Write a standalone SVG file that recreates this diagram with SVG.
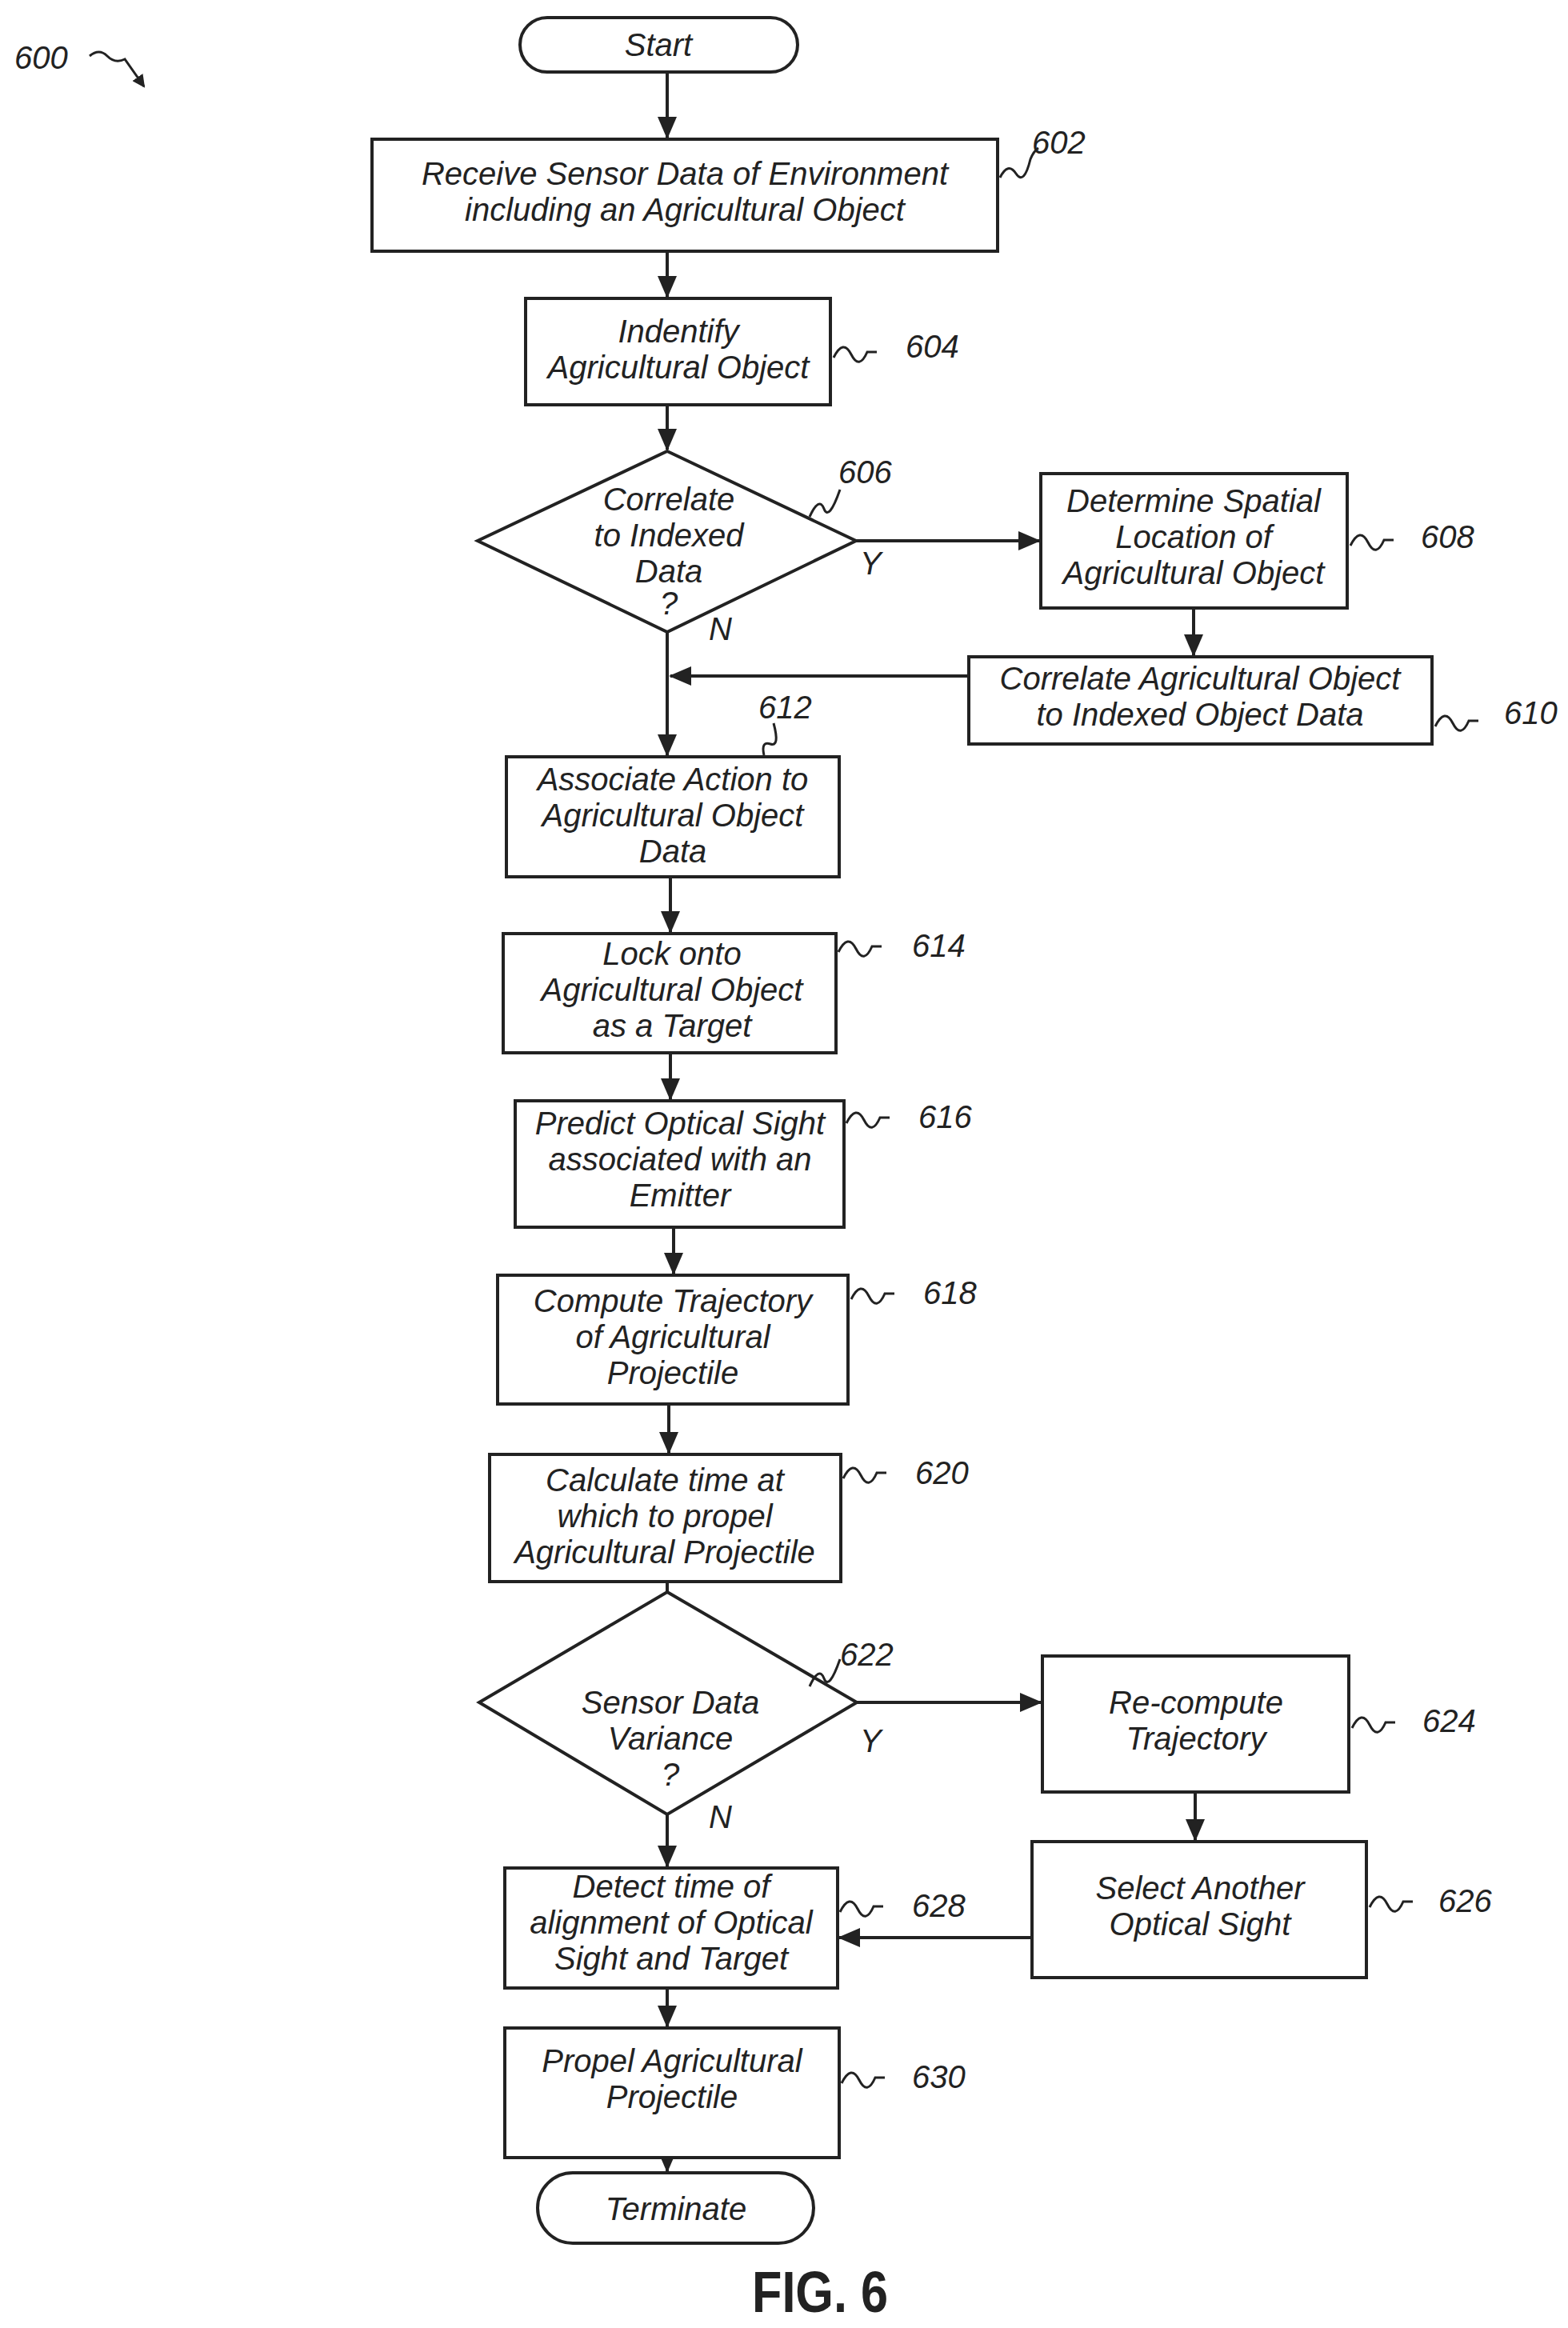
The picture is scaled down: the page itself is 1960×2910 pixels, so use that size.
<svg xmlns="http://www.w3.org/2000/svg" width="1960" height="2910" viewBox="0 0 1960 2910">
<style>
.b{fill:#fff;stroke:#222;stroke-width:4}
.t{font-family:"Liberation Sans",Arial,sans-serif;font-style:italic;font-size:40px;fill:#222;text-anchor:middle}
.n{font-family:"Liberation Sans",Arial,sans-serif;font-style:italic;font-size:40px;fill:#222}
.c{fill:none;stroke:#222;stroke-width:4}
.s{fill:none;stroke:#222;stroke-width:3}
</style>
<defs><marker id="a" markerWidth="16" markerHeight="16" refX="14" refY="8" orient="auto" markerUnits="userSpaceOnUse" viewBox="0 0 16 16"><path d="M0,0 L16,8 L0,16 z" fill="#222"/></marker>
<marker id="ah" markerWidth="28" markerHeight="28" refX="26" refY="14" orient="auto" markerUnits="userSpaceOnUse"><path d="M0,2 L28,14 L0,26 z" fill="#222"/></marker></defs>
<g id="connectors">
<path class="c" marker-end="url(#ah)" d="M834,90 V172"/>
<path class="c" marker-end="url(#ah)" d="M834,314 V371"/>
<path class="c" marker-end="url(#ah)" d="M834,506 V562"/>
<path class="c" marker-end="url(#ah)" d="M1070,676 H1299"/>
<path class="c" marker-end="url(#ah)" d="M1492,760 V819"/>
<path class="c" marker-end="url(#ah)" d="M1211,845 H838"/>
<path class="c" marker-end="url(#ah)" d="M834,790 V944"/>
<path class="c" marker-end="url(#ah)" d="M838,1096 V1165"/>
<path class="c" marker-end="url(#ah)" d="M838,1316 V1374"/>
<path class="c" marker-end="url(#ah)" d="M842,1534 V1592"/>
<path class="c" marker-end="url(#ah)" d="M836,1755 V1816"/>
<path class="c" marker-end="url(#ah)" d="M834,1977 V2040"/>
<path class="c" marker-end="url(#ah)" d="M1071,2128 H1301"/>
<path class="c" marker-end="url(#ah)" d="M1494,2240 V2300"/>
<path class="c" marker-end="url(#ah)" d="M1290,2422 H1049"/>
<path class="c" marker-end="url(#ah)" d="M834,2268 V2333"/>
<path class="c" marker-end="url(#ah)" d="M834,2485 V2533"/>
<path class="c" marker-end="url(#ah)" d="M834,2697 V2714"/>
<text class="n" x="1075" y="718">Y</text>
<text class="n" x="886" y="800">N</text>
<text class="n" x="1075" y="2190">Y</text>
<text class="n" x="886" y="2285">N</text>
</g>
<g id="label600"><text class="n" x="18" y="86">600</text><path class="s" marker-end="url(#a)" d="M112,70 q12,-10 22,0 t22,4 l24,34"/></g>
<g id="start"><rect class="b" x="650" y="22" width="347" height="68" rx="34"/><text class="t" x="823" y="70">Start</text></g>
<g id="n602"><rect class="b" x="465" y="174" width="782" height="140"/><text class="t" x="856" y="231">Receive Sensor Data of Environment</text><text class="t" x="856" y="276">including an Agricultural Object</text><path class="s" d="M1250,222 q10,-20 20,-5 t18,-18 q4,-10 10,-14"/><text class="n" x="1290" y="192">602</text></g>
<g id="n604"><rect class="b" x="657" y="373" width="381" height="133"/><text class="t" x="848" y="428">Indentify</text><text class="t" x="848" y="473">Agricultural Object</text><path class="s" d="M1042,447 q12,-24 22,-4 t20,-3 h12"/><text class="n" x="1132" y="447">604</text></g>
<g id="n606"><polygon class="b" points="834,564 1070,676 834,790 597,676"/><text class="t" x="836" y="638">Correlate</text><text class="t" x="836" y="683">to Indexed</text><text class="t" x="836" y="728">Data</text><text class="t" x="836" y="768">?</text><path class="s" d="M1012,646 q12,-26 18,-10 t20,-24"/><text class="n" x="1048" y="604">606</text></g>
<g id="n608"><rect class="b" x="1301" y="592" width="383" height="168"/><text class="t" x="1492" y="640">Determine Spatial</text><text class="t" x="1492" y="685">Location of</text><text class="t" x="1492" y="730">Agricultural Object</text><path class="s" d="M1688,682 q12,-24 22,-4 t20,-3 h12"/><text class="n" x="1776" y="685">608</text></g>
<g id="n610"><rect class="b" x="1211" y="821" width="579" height="109"/><text class="t" x="1500" y="862">Correlate Agricultural Object</text><text class="t" x="1500" y="907">to Indexed Object Data</text><path class="s" d="M1794,908 q12,-24 22,-4 t20,-3 h12"/><text class="n" x="1880" y="905">610</text></g>
<g id="n612"><rect class="b" x="633" y="946" width="416" height="150"/><text class="t" x="841" y="988">Associate Action to</text><text class="t" x="841" y="1033">Agricultural Object</text><text class="t" x="841" y="1078">Data</text><path class="s" d="M955,944 q-4,-18 8,-14 t4,-26"/><text class="n" x="948" y="898">612</text></g>
<g id="n614"><rect class="b" x="629" y="1167" width="416" height="149"/><text class="t" x="840" y="1206">Lock onto</text><text class="t" x="840" y="1251">Agricultural Object</text><text class="t" x="840" y="1296">as a Target</text><path class="s" d="M1048,1190 q12,-24 22,-4 t20,-3 h12"/><text class="n" x="1140" y="1196">614</text></g>
<g id="n616"><rect class="b" x="644" y="1376" width="411" height="158"/><text class="t" x="850" y="1418">Predict Optical Sight</text><text class="t" x="850" y="1463">associated with an</text><text class="t" x="850" y="1508">Emitter</text><path class="s" d="M1058,1404 q12,-24 22,-4 t20,-3 h12"/><text class="n" x="1148" y="1410">616</text></g>
<g id="n618"><rect class="b" x="622" y="1594" width="438" height="161"/><text class="t" x="841" y="1640">Compute Trajectory</text><text class="t" x="841" y="1685">of Agricultural</text><text class="t" x="841" y="1730">Projectile</text><path class="s" d="M1064,1624 q12,-24 22,-4 t20,-3 h12"/><text class="n" x="1154" y="1630">618</text></g>
<g id="n620"><rect class="b" x="612" y="1818" width="439" height="159"/><text class="t" x="831" y="1864">Calculate time at</text><text class="t" x="831" y="1909">which to propel</text><text class="t" x="831" y="1954">Agricultural Projectile</text><path class="s" d="M1054,1848 q12,-24 22,-4 t20,-3 h12"/><text class="n" x="1144" y="1855">620</text></g>
<g id="n622"><polygon class="b" points="834,1990 1071,2128 834,2268 599,2128"/><text class="t" x="838" y="2142">Sensor Data</text><text class="t" x="838" y="2187">Variance</text><text class="t" x="838" y="2232">?</text><path class="s" d="M1012,2108 q12,-26 18,-10 t20,-24"/><text class="n" x="1050" y="2082">622</text></g>
<g id="n624"><rect class="b" x="1303" y="2070" width="383" height="170"/><text class="t" x="1495" y="2142">Re-compute</text><text class="t" x="1495" y="2187">Trajectory</text><path class="s" d="M1690,2160 q12,-24 22,-4 t20,-3 h12"/><text class="n" x="1778" y="2165">624</text></g>
<g id="n626"><rect class="b" x="1290" y="2302" width="418" height="170"/><text class="t" x="1500" y="2374">Select Another</text><text class="t" x="1500" y="2419">Optical Sight</text><path class="s" d="M1712,2384 q12,-24 22,-4 t20,-3 h12"/><text class="n" x="1798" y="2390">626</text></g>
<g id="n628"><rect class="b" x="631" y="2335" width="416" height="150"/><text class="t" x="839" y="2372">Detect time of</text><text class="t" x="839" y="2417">alignment of Optical</text><text class="t" x="839" y="2462">Sight and Target</text><path class="s" d="M1050,2390 q12,-24 22,-4 t20,-3 h12"/><text class="n" x="1140" y="2396">628</text></g>
<g id="n630"><rect class="b" x="631" y="2535" width="418" height="162"/><text class="t" x="840" y="2590">Propel  Agricultural</text><text class="t" x="840" y="2635">Projectile</text><path class="s" d="M1052,2604 q12,-24 22,-4 t20,-3 h12"/><text class="n" x="1140" y="2610">630</text></g>
<g id="terminate"><rect class="b" x="672" y="2716" width="345" height="88" rx="44"/><text class="t" x="845" y="2775">Terminate</text></g>
<text x="1025" y="2890" font-family="Liberation Sans,Arial,sans-serif" font-weight="bold" font-size="72" text-anchor="middle" fill="#222" transform="translate(1025 2890) scale(0.85 1) translate(-1025 -2890)">FIG. 6</text>
</svg>
